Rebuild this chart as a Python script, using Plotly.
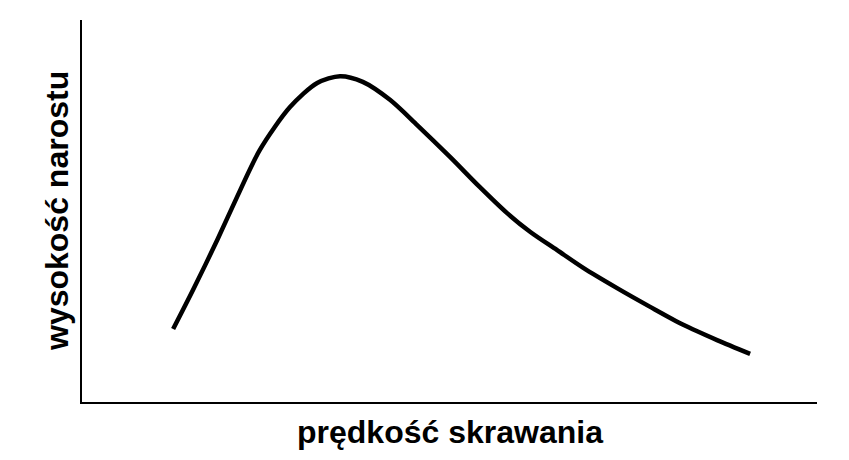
import plotly.graph_objects as go

# Curve values (arbitrary units: x 0-100, y 0-100)
speed = [12.4, 15.1, 18.4, 21.1, 24.2, 28.3, 32.0, 35.1, 38.2, 41.9, 45.6,
         50.1, 54.1, 57.8, 61.0, 64.6, 68.2, 72.8, 77.3, 81.8, 86.4, 90.9]
height = [19.1, 29.3, 42.4, 53.7, 66.0, 77.2, 83.5, 85.3, 83.8, 79.1, 72.5,
          64.1, 56.3, 49.5, 44.5, 39.8, 35.1, 29.8, 24.9, 20.2, 16.2, 12.6]

x_title = "prędkość skrawania"
y_title = "wysokość narostu"

fig = go.Figure()
fig.add_trace(go.Scatter(
    x=speed, y=height, mode="lines",
    line=dict(color="black", width=4.5, shape="spline", smoothing=0.8),
    hoverinfo="skip", showlegend=False,
))

axis_common = dict(showgrid=False, zeroline=False, showticklabels=False,
                   ticks="", showline=True, linecolor="black", linewidth=2,
                   fixedrange=True)
fig.update_xaxes(range=[0, 100], **axis_common)
fig.update_yaxes(range=[0, 100], **axis_common)

label_font = dict(family="Liberation Sans, Arial, sans-serif", size=32, color="black")
fig.add_annotation(text="<b>%s</b>" % x_title, xref="paper", yref="paper",
                   x=0.5, y=0, yshift=-30, showarrow=False, font=label_font,
                   xanchor="center", yanchor="middle")
fig.add_annotation(text="<b>%s</b>" % y_title, xref="paper", yref="paper",
                   x=0, xshift=-25, y=0.5, showarrow=False, font=label_font,
                   textangle=-90, xanchor="center", yanchor="middle")

fig.update_layout(
    width=849, height=460,
    margin=dict(l=74, r=40, t=12, b=66),
    paper_bgcolor="white", plot_bgcolor="white",
)

fig.write_html("out.html")
